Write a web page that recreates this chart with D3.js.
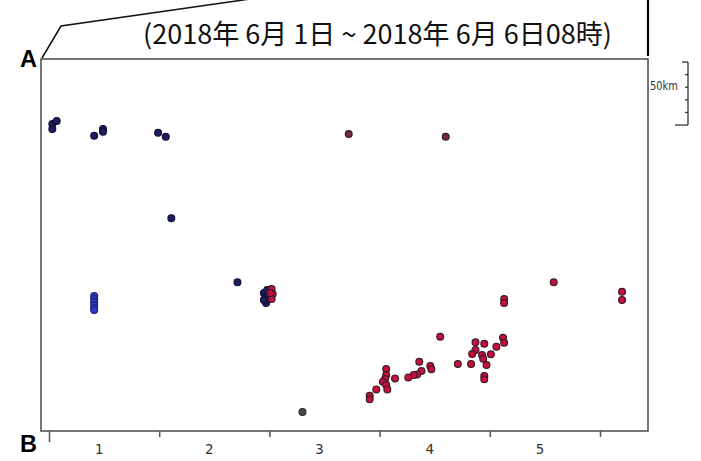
<!DOCTYPE html>
<html>
<head>
<meta charset="utf-8">
<script src="https://cdn.jsdelivr.net/npm/d3@7"></script>
<style>
  body { margin: 0; background: #fff; }
  svg { display: block; }
</style>
</head>
<body>
<div id="chart"></div>
<script>
// day boundaries (x ticks) and labels drawn between them
const dayTicks = [1, 2, 3, 4, 5, 6]
const dayLabels = [1, 2, 3, 4, 5]

// [day, km from A]
const navyPts = [
  [1.03, 51.6], [1.03, 55.5], [1.07, 49.2], [1.41, 60.8], [1.49, 55.5],
  [1.49, 57.7], [1.99, 58.5], [2.06, 61.6], [2.11, 126.3], [2.71, 177.1],
  [2.95, 185.6], [2.96, 189.6], [2.97, 193.5], [2.99, 188.0], [2.98, 183.2],
  [2.95, 191.1]
]
const bluePts = [
  [1.41, 188.0], [1.41, 190.4], [1.41, 192.7], [1.41, 195.1], [1.41, 197.5], [1.41, 199.1]
]
const grayPts = [[3.30, 280.0]]
const maroonPts = [[3.72, 59.5], [4.60, 61.6]]
const redPts = [
  [3.02, 182.4], [3.03, 186.4], [3.02, 190.4], [3.01, 185.6],
  [5.58, 177.1], [6.20, 184.6], [6.20, 191.1], [5.13, 190.4], [5.13, 193.5],
  [4.55, 220.3], [4.87, 224.7], [4.95, 225.8], [5.12, 221.0], [5.13, 225.0],
  [5.06, 228.2], [5.01, 234.2], [4.87, 230.8], [4.84, 234.0], [4.93, 234.8],
  [4.94, 237.7], [4.71, 241.9], [4.83, 241.9], [4.97, 242.7], [4.95, 251.4],
  [4.95, 254.0], [4.36, 240.1], [4.46, 243.5], [4.47, 246.1], [4.38, 247.5],
  [4.34, 250.1], [4.31, 250.6], [4.26, 252.5], [4.14, 253.3], [4.06, 245.9],
  [4.06, 250.6], [4.05, 253.8], [4.03, 255.9], [4.06, 258.6], [4.07, 262.0],
  [3.97, 262.0], [3.91, 267.1], [3.91, 269.9]
]

const width = 701
const height = 461
const frame = { left: 41, right: 648, top: 59, bottom: 431 }

const svg = d3.select('#chart')
  .append('svg')
  .attr('width', width)
  .attr('height', height)

const x = d3.scaleLinear().domain([1, 6]).range([49, 600])
const y = d3.scaleLinear().domain([0, 295]).range([frame.top, frame.bottom])

// title and profile marks
svg.append('text')
  .attr('x', 143)
  .attr('y', 44)
  .attr('textLength', 469)
  .attr('lengthAdjust', 'spacingAndGlyphs')
  .style('font-family', '"Noto Sans CJK JP", sans-serif')
  .style('font-size', '27px')
  .style('fill', '#111')
  .text('(2018年 6月 1日 ~ 2018年 6月 6日08時)')

svg.append('polyline')
  .attr('points', '42,58 61,26 250,-1')
  .attr('fill', 'none')
  .attr('stroke', '#111')
  .attr('stroke-width', 1.5)

svg.append('line')
  .attr('x1', 648).attr('x2', 648)
  .attr('y1', 0).attr('y2', 56)
  .attr('stroke', '#000')
  .attr('stroke-width', 2.2)

svg.selectAll('.end')
  .data([['A', 67], ['B', 452]])
  .enter()
  .append('text')
  .attr('x', 20)
  .attr('y', d => d[1])
  .attr('textLength', 17)
  .attr('lengthAdjust', 'spacingAndGlyphs')
  .style('font-family', '"Liberation Sans", sans-serif')
  .style('font-weight', 'bold')
  .style('font-size', '24px')
  .style('fill', '#000')
  .text(d => d[0])

// frame
svg.append('rect')
  .attr('x', frame.left)
  .attr('y', frame.top)
  .attr('width', frame.right - frame.left)
  .attr('height', frame.bottom - frame.top)
  .attr('fill', '#fff')
  .attr('stroke', '#4a4a4a')
  .attr('stroke-width', 1.5)

// x axis ticks and labels
const tickAxis = svg.append('g')
  .attr('transform', `translate(0,${frame.bottom})`)
  .call(d3.axisBottom(x).tickValues(dayTicks).tickSize(6).tickFormat(''))
tickAxis.select('.domain').remove()
tickAxis.selectAll('line').attr('stroke', '#555').attr('stroke-width', 1.5)
tickAxis.select('.tick line').attr('y2', 11)

const labelAxis = svg.append('g')
  .attr('transform', `translate(0,${frame.bottom})`)
  .call(d3.axisBottom(x).tickValues(dayLabels.map(d => d + 0.45)).tickSize(0)
    .tickFormat(d => Math.round(d - 0.45)))
labelAxis.select('.domain').remove()
labelAxis.selectAll('text')
  .attr('y', 13)
  .style('font-family', '"DejaVu Sans Mono", monospace')
  .style('font-size', '14px')
  .style('fill', '#333')

// 50 km scale bar
const sbX = 688
const sbTop = y(0) + 3
const sbLen = y(50) - y(0)
const sb = svg.append('g').attr('stroke', '#333').attr('stroke-width', 1.3)
sb.append('line').attr('x1', sbX).attr('x2', sbX).attr('y1', sbTop).attr('y2', sbTop + sbLen)
sb.append('line').attr('x1', sbX - 6).attr('x2', sbX).attr('y1', sbTop).attr('y2', sbTop)
sb.append('line').attr('x1', sbX - 13).attr('x2', sbX).attr('y1', sbTop + sbLen).attr('y2', sbTop + sbLen)
sb.selectAll('.sbt')
  .data([10, 20, 30, 40])
  .enter()
  .append('line')
  .attr('x1', sbX - 3).attr('x2', sbX)
  .attr('y1', d => sbTop + y(d) - y(0))
  .attr('y2', d => sbTop + y(d) - y(0))
svg.append('text')
  .attr('x', 650)
  .attr('y', 90)
  .attr('textLength', 28)
  .attr('lengthAdjust', 'spacingAndGlyphs')
  .style('font-family', '"DejaVu Sans", sans-serif')
  .style('font-size', '13px')
  .style('fill', '#333')
  .text('50km')

// epicentres
const groups = [
  { pts: navyPts, fill: '#1e1e5e', stroke: '#11113a' },
  { pts: bluePts, fill: '#2b3dc6', stroke: '#1b2288' },
  { pts: grayPts, fill: '#4a4a4a', stroke: '#2a2a2a' },
  { pts: maroonPts, fill: '#6a2c44', stroke: '#3a1a26' },
  { pts: redPts, fill: '#c8103c', stroke: '#3a1a28' }
]

const dots = svg.append('g').classed('parent', true)
groups.forEach(g => {
  dots.append('g')
    .selectAll('circle')
    .data(g.pts)
    .enter()
    .append('circle')
    .attr('cx', d => x(d[0]))
    .attr('cy', d => y(d[1]))
    .attr('r', 3.4)
    .style('fill', g.fill)
    .style('stroke', g.stroke)
    .style('stroke-width', 1.2)
})
</script>
</body>
</html>
